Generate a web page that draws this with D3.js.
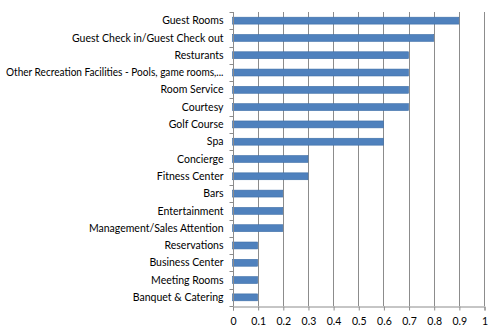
<!DOCTYPE html>
<html>
<head>
<meta charset="utf-8">
<script src="https://cdn.jsdelivr.net/npm/d3@7"></script>
<style>
  html, body { margin: 0; padding: 0; background: #fff; }
  svg { display: block; }
  text { font-family: Lato, sans-serif; fill: #000; }
</style>
</head>
<body>
<div id="chart"></div>
<script>
const categories = [
  "Guest Rooms",
  "Guest Check in/Guest Check out",
  "Resturants",
  "Other Recreation Facilities - Pools, game rooms,...",
  "Room Service",
  "Courtesy",
  "Golf Course",
  "Spa",
  "Concierge",
  "Fitness Center",
  "Bars",
  "Entertainment",
  "Management/Sales Attention",
  "Reservations",
  "Business Center",
  "Meeting Rooms",
  "Banquet & Catering"
];
const values = [0.9, 0.8, 0.7, 0.7, 0.7, 0.7, 0.6, 0.6, 0.3, 0.3, 0.2, 0.2, 0.2, 0.1, 0.1, 0.1, 0.1];
const xTicks = [0, 0.1, 0.2, 0.3, 0.4, 0.5, 0.6, 0.7, 0.8, 0.9, 1];
const xTickLabels = ["0", "0.1", "0.2", "0.3", "0.4", "0.5", "0.6", "0.7", "0.8", "0.9", "1"];

const W = 500, H = 333;
const margin = { top: 12, right: 16, bottom: 27, left: 232.5 };
const FONT = "10.5px";

const svg = d3.select("#chart").append("svg").attr("width", W).attr("height", H);

const x = d3.scaleLinear().domain([0, 1]).range([margin.left, W - margin.right]);
const y = d3.scaleBand().domain(categories).range([margin.top, H - margin.bottom]).paddingInner(0.6).paddingOuter(0.3);
const yEdge = d3.scaleBand().domain(categories).range([margin.top, H - margin.bottom]);

// vertical gridlines
svg.append("g").selectAll("line").data(xTicks.slice(1)).join("line")
  .attr("x1", d => Math.round(x(d)) + 0.5).attr("x2", d => Math.round(x(d)) + 0.5)
  .attr("y1", margin.top).attr("y2", H - margin.bottom)
  .attr("stroke", "#8c8c8c").attr("stroke-width", 1);

// bars
svg.append("g").selectAll("rect").data(categories).join("rect")
  .attr("x", x(0))
  .attr("y", d => y(d))
  .attr("width", (d, i) => x(values[i]) - x(0))
  .attr("height", y.bandwidth())
  .attr("fill", "#4f81bd")
  .attr("stroke", "#3f6fa8")
  .attr("stroke-width", 0.6);

// category axis
const yAxisG = svg.append("g");
const axisX = Math.round(x(0)) + 0.5;
yAxisG.append("line").attr("x1", axisX).attr("x2", axisX)
  .attr("y1", margin.top).attr("y2", H - margin.bottom).attr("stroke", "#8c8c8c");
const edges = categories.map(c => yEdge(c)).concat([H - margin.bottom]);
yAxisG.selectAll("line.tk").data(edges).join("line").attr("class", "tk")
  .attr("x1", axisX - 4).attr("x2", axisX)
  .attr("y1", d => Math.round(d) + 0.5).attr("y2", d => Math.round(d) + 0.5)
  .attr("stroke", "#8c8c8c");
const labels = yAxisG.selectAll("text").data(categories).join("text")
  .attr("x", axisX - 10)
  .attr("y", d => yEdge(d) + yEdge.bandwidth() / 2)
  .attr("dy", "0.35em")
  .attr("text-anchor", "end")
  .attr("font-size", FONT)
  .text(d => d);
// keep the longest label inside the left edge
labels.each(function () {
  const w = this.getComputedTextLength();
  const avail = axisX - 10 - 6;
  if (w > avail) d3.select(this).attr("textLength", avail).attr("lengthAdjust", "spacingAndGlyphs");
});

// value axis
const xAxis = d3.axisBottom(x).tickValues(xTicks).tickFormat((d, i) => xTickLabels[i]).tickSizeOuter(0).tickSize(4).tickPadding(7);
const xg = svg.append("g").attr("transform", `translate(0.5,${Math.round(H - margin.bottom) + 0.5})`).call(xAxis);
xg.select(".domain").attr("stroke", "#8c8c8c");
xg.selectAll(".tick line").attr("stroke", "#8c8c8c");
xg.selectAll(".tick text").attr("font-size", FONT).attr("font-family", "Lato, sans-serif").attr("fill", "#000");
</script>
</body>
</html>
